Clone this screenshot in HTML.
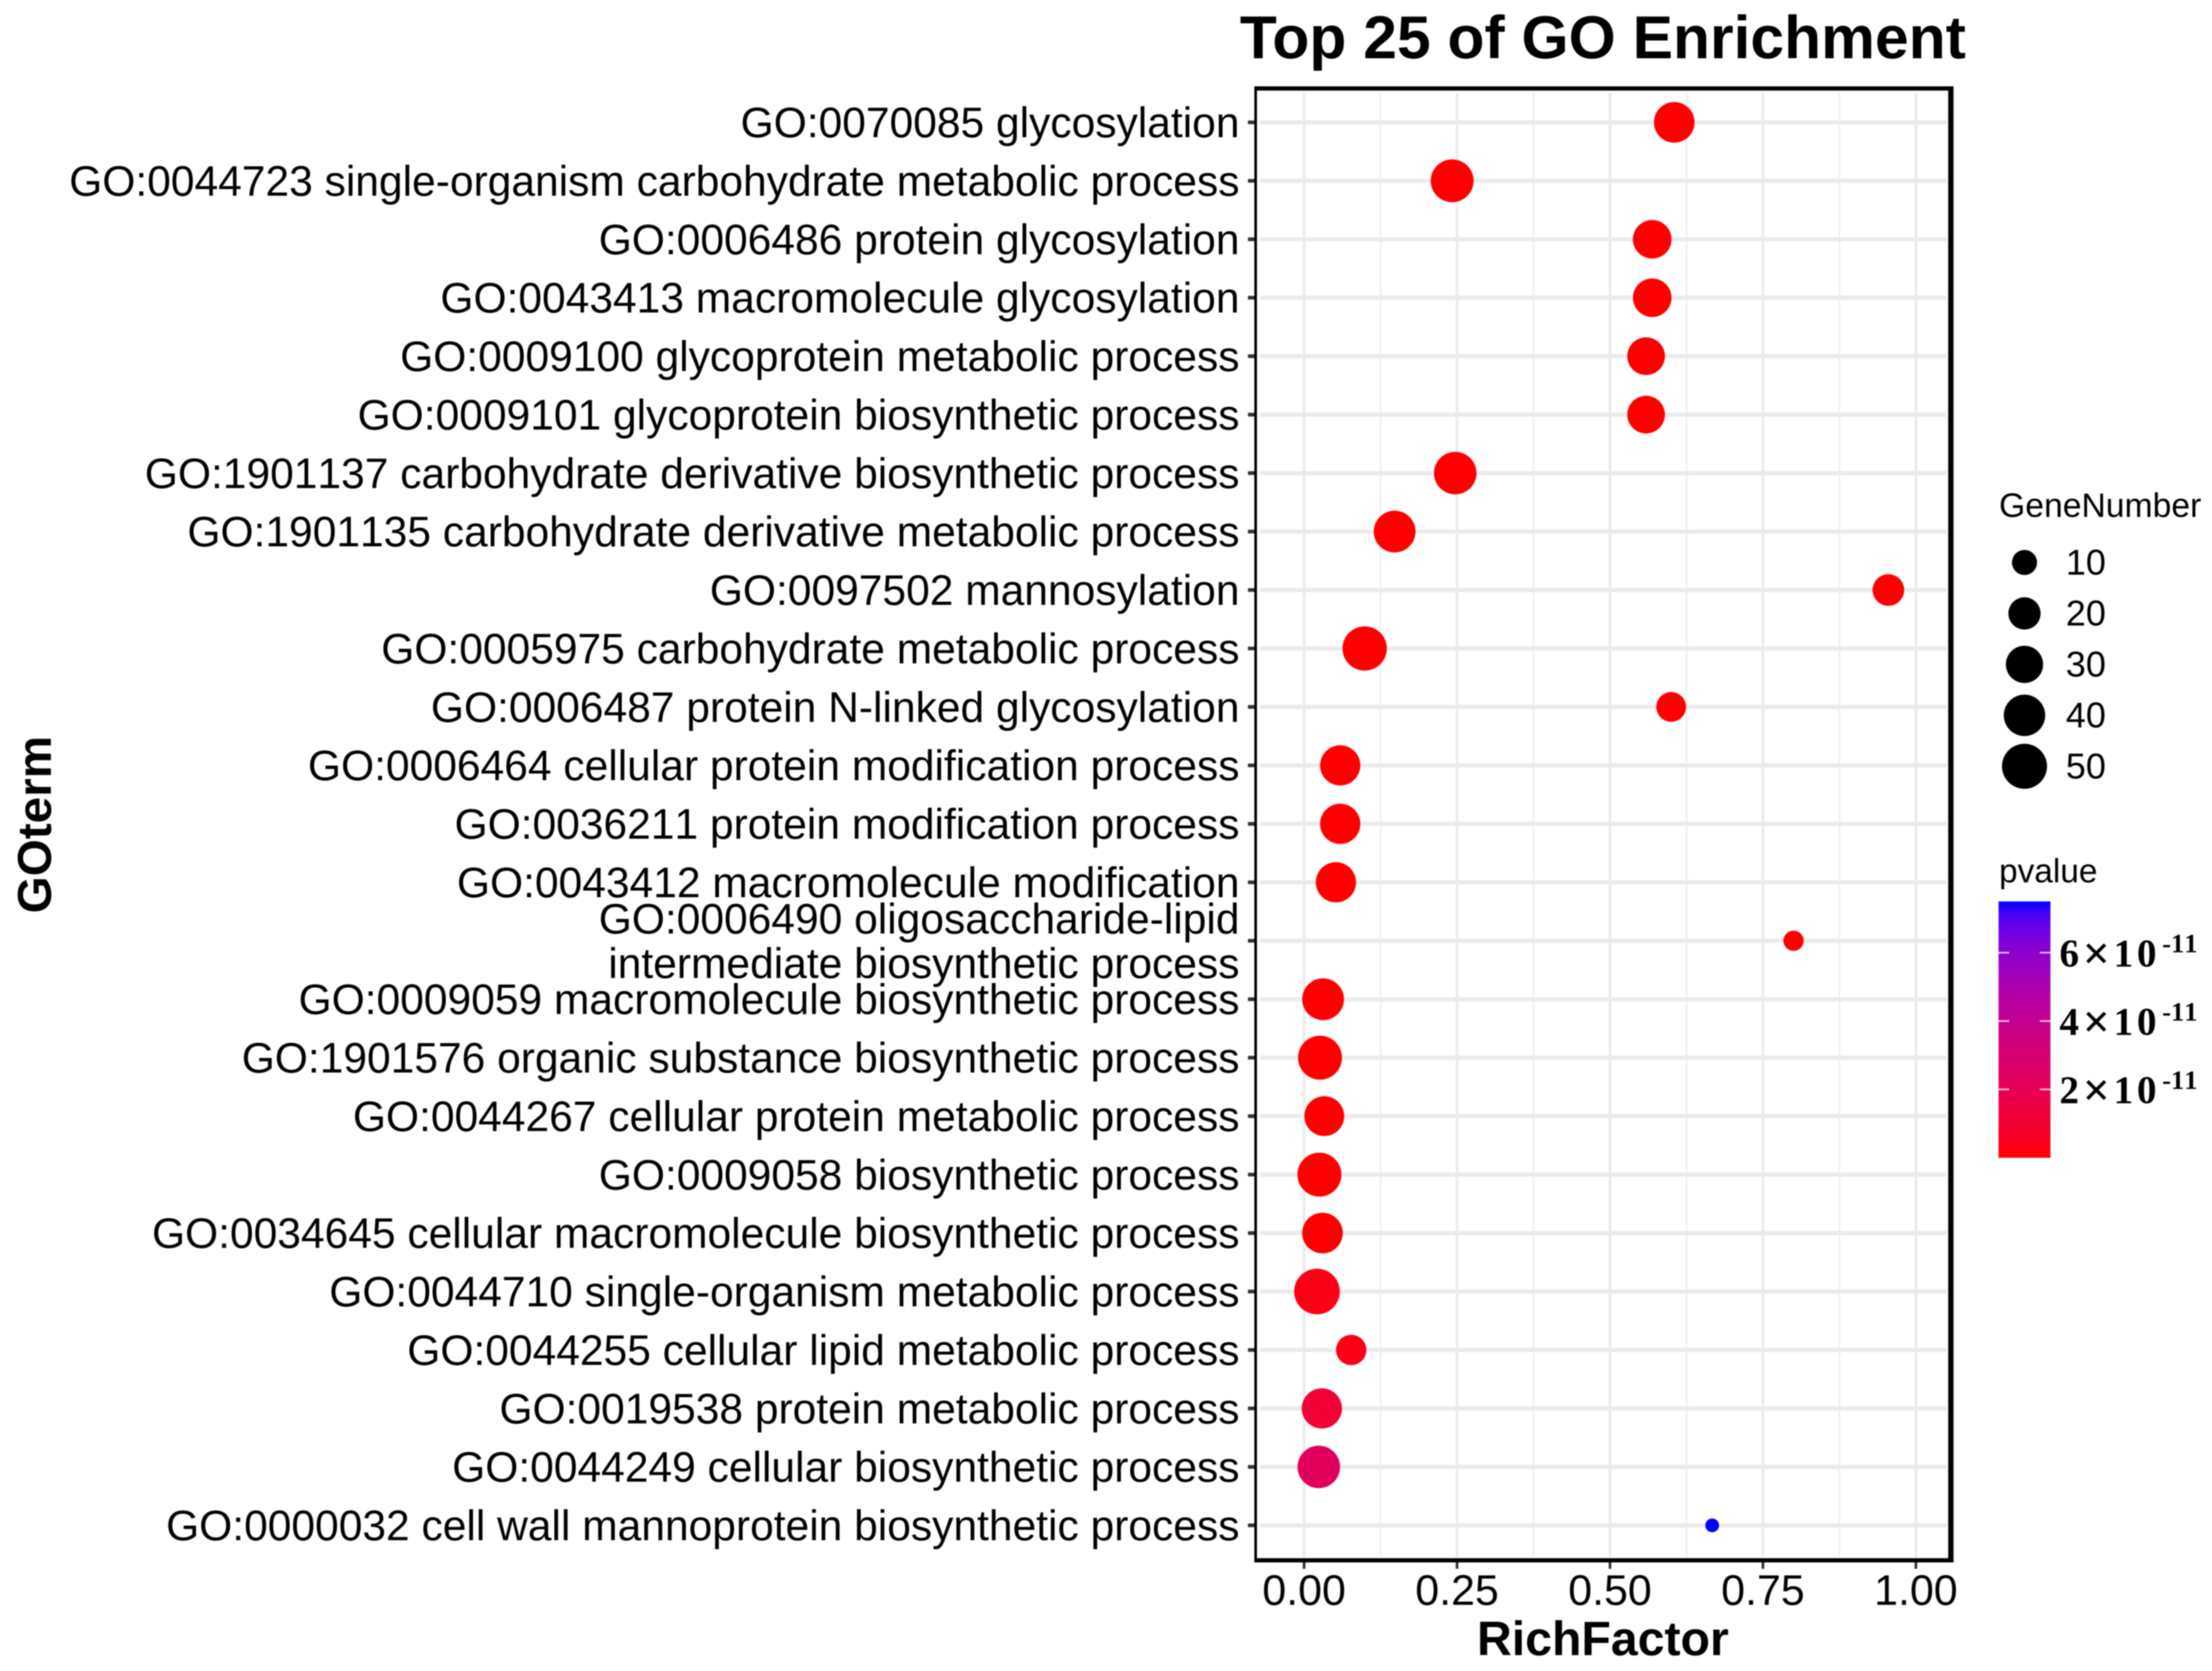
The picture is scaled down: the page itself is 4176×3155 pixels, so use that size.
<!DOCTYPE html>
<html lang="en">
<head>
<meta charset="utf-8">
<title>Top 25 of GO Enrichment</title>
<style>
html,body{margin:0;padding:0;background:#fff;width:4176px;height:3155px;overflow:hidden}
svg{display:block;filter:blur(1px)}
text{font-family:"Liberation Sans",Arial,sans-serif;fill:#000}
.serif{font-family:"Liberation Serif","Times New Roman",serif;font-weight:bold;font-kerning:none}
.ylab{font-kerning:none}
</style>
</head>
<body>
<svg id="chart" xmlns="http://www.w3.org/2000/svg" width="4176" height="3155" viewBox="0 0 4176 3155">
  <defs>
    <linearGradient id="pvalue-gradient" x1="0" y1="1" x2="0" y2="0"></linearGradient>
  </defs>
  <rect x="0" y="0" width="4176" height="3155" fill="#ffffff"/>
  <g id="grid"></g>
  <g id="points"></g>
  <g id="frame">
    <rect x="2368" y="163" width="1320" height="8" fill="#000"/>
    <rect x="2368" y="2942" width="1320" height="8" fill="#000"/>
    <rect x="2368" y="163" width="5" height="2787" fill="#000"/>
    <rect x="3678" y="163" width="10" height="2787" fill="#000"/>
  </g>
  <g id="y-axis"></g>
  <g id="x-axis"></g>
  <text x="3026" y="110" font-size="114.4" font-weight="bold" text-anchor="middle">Top 25 of GO Enrichment</text>
  <text x="3026" y="3125" font-size="91" font-weight="bold" text-anchor="middle">RichFactor</text>
  <text transform="translate(96 1557) rotate(-90)" font-size="90" font-weight="bold" text-anchor="middle">GOterm</text>
  <g id="size-legend">
    <text x="3774" y="976" font-size="63.6">GeneNumber</text>
  </g>
  <g id="color-legend">
    <text x="3774" y="1666" font-size="63">pvalue</text>
    <rect x="3773" y="1702" width="98" height="484" fill="url(#pvalue-gradient)"/>
  </g>
</svg>
<script>
// ---- chart data ----
const terms = [
  "GO:0070085 glycosylation",
  "GO:0044723 single-organism carbohydrate metabolic process",
  "GO:0006486 protein glycosylation",
  "GO:0043413 macromolecule glycosylation",
  "GO:0009100 glycoprotein metabolic process",
  "GO:0009101 glycoprotein biosynthetic process",
  "GO:1901137 carbohydrate derivative biosynthetic process",
  "GO:1901135 carbohydrate derivative metabolic process",
  "GO:0097502 mannosylation",
  "GO:0005975 carbohydrate metabolic process",
  "GO:0006487 protein N-linked glycosylation",
  "GO:0006464 cellular protein modification process",
  "GO:0036211 protein modification process",
  "GO:0043412 macromolecule modification",
  "GO:0006490 oligosaccharide-lipid\nintermediate biosynthetic process",
  "GO:0009059 macromolecule biosynthetic process",
  "GO:1901576 organic substance biosynthetic process",
  "GO:0044267 cellular protein metabolic process",
  "GO:0009058 biosynthetic process",
  "GO:0034645 cellular macromolecule biosynthetic process",
  "GO:0044710 single-organism metabolic process",
  "GO:0044255 cellular lipid metabolic process",
  "GO:0019538 protein metabolic process",
  "GO:0044249 cellular biosynthetic process",
  "GO:0000032 cell wall mannoprotein biosynthetic process"
];
const richFactor = [0.605,0.242,0.569,0.569,0.559,0.559,0.247,0.148,0.955,0.099,0.600,0.059,0.059,0.052,0.800,0.031,0.026,0.033,0.025,0.030,0.021,0.077,0.029,0.024,0.667];
const geneNumber = [38,44,33,33,31,31,43,41,19,48,16,37,37,37,6,41,47,36,47,38,52,17,37,43,4];
const pValue = [0,0,0,0,0,0,0,0,0,0,0,0,0,0,0,0,0,0,0,0,3e-12,3e-12,1.1e-11,2.3e-11,7.5e-11];
const xTickValues = [0,0.25,0.5,0.75,1];
const xTickLabels = ["0.00","0.25","0.50","0.75","1.00"];
const xMinorTickValues = [0.125,0.375,0.625,0.875];
const legendSizes = [10,20,30,40,50];
const colorbarTickValues = [2e-11,4e-11,6e-11];
const colorbarTickLabels = ["2×10","4×10","6×10"];
const colorbarExponent = "-11";
const pMax = 7.5e-11;

// ---- axis functions ----
const NS = "http://www.w3.org/2000/svg";
function xScale(v){ return 2462 + 1155 * v; }
function yScale(i){ return 231 + 110.375 * i; }
function sizeScale(n){
  const t = Math.max(0, (n - 4) / 46);
  return 26 + 59 * Math.sqrt(t);
}
function cbScale(p){ return 2186 - 484 * (p / pMax); }

function srgb2lin(c){ c/=255; return c<=0.04045 ? c/12.92 : Math.pow((c+0.055)/1.055,2.4); }
function lin2srgb(c){ const v = c<=0.0031308 ? 12.92*c : 1.055*Math.pow(c,1/2.4)-0.055; return Math.round(255*Math.min(1,Math.max(0,v))); }
function rgb2lab(r,g,b){
  r=srgb2lin(r);g=srgb2lin(g);b=srgb2lin(b);
  const x=(0.4124564*r+0.3575761*g+0.1804375*b)/0.95047,y=0.2126729*r+0.7151522*g+0.0721750*b,z=(0.0193339*r+0.1191920*g+0.9503041*b)/1.08883;
  const f=t=>t>0.008856?Math.cbrt(t):7.787*t+16/116;
  return [116*f(y)-16,500*(f(x)-f(y)),200*(f(y)-f(z))];
}
function lab2rgb(L,a,b){
  const fy=(L+16)/116,fx=a/500+fy,fz=fy-b/200;
  const g=t=>{const c=t*t*t;return c>0.008856?c:(t-16/116)/7.787;};
  const x=g(fx)*0.95047,y=g(fy),z=g(fz)*1.08883;
  return [lin2srgb(3.2404542*x-1.5371385*y-0.4985314*z),lin2srgb(-0.9692660*x+1.8760108*y+0.0415560*z),lin2srgb(0.0556434*x-0.2040259*y+1.0572252*z)];
}
const labLow = rgb2lab(255,0,0), labHigh = rgb2lab(0,0,255);
function colorScale(p){
  const t = Math.min(1, Math.max(0, p / pMax));
  const c = lab2rgb(labLow[0]+(labHigh[0]-labLow[0])*t, labLow[1]+(labHigh[1]-labLow[1])*t, labLow[2]+(labHigh[2]-labLow[2])*t);
  return "rgb("+c[0]+","+c[1]+","+c[2]+")";
}

function mk(tag, parent, attrs){
  const el = document.createElementNS(NS, tag);
  for (const k in attrs) el.setAttribute(k, attrs[k]);
  parent.appendChild(el);
  return el;
}

const grid = document.getElementById("grid");
const pointsG = document.getElementById("points");
const yAxis = document.getElementById("y-axis");
const xAxis = document.getElementById("x-axis");
const sizeLegend = document.getElementById("size-legend");
const colorLegend = document.getElementById("color-legend");
const gradient = document.getElementById("pvalue-gradient");

// grid
xMinorTickValues.forEach(function(v){
  const l = mk("line", grid, {x1:xScale(v),x2:xScale(v),y1:175,y2:2940,stroke:"#eeeeee","stroke-width":3});
  
  
});
xTickValues.forEach(function(v){
  const l = mk("line", grid, {x1:xScale(v),x2:xScale(v),y1:175,y2:2940,stroke:"#ebebeb","stroke-width":5});
  
  
});
terms.forEach(function(t,i){
  const l = mk("line", grid, {x1:2378,x2:3675,y1:yScale(i),y2:yScale(i),stroke:"#ebebeb","stroke-width":8});
  
  
});

// y axis
terms.forEach(function(t,i){
  const y = yScale(i);
  const tick = mk("line", yAxis, {x1:2356,x2:2368,y1:y,y2:y,stroke:"#333","stroke-width":7});
  
  
  const lines = t.split("\n");
  if (lines.length === 1) {
    const txt = mk("text", yAxis, {x:2340,y:y+28,"font-size":80.3,"text-anchor":"end","class":"ylab"});
    txt.textContent = lines[0];
    
    
  } else {
    lines.forEach(function(s,j){
      const txt = mk("text", yAxis, {x:2340,y:y-14+84*j,"font-size":80.3,"text-anchor":"end","class":"ylab"});
      txt.textContent = s;
      
      
    });
  }
});

// x axis
xTickValues.forEach(function(v,i){
  const tick = mk("line", xAxis, {x1:xScale(v),x2:xScale(v),y1:2950,y2:2962,stroke:"#333","stroke-width":5});
  
  
  const txt = mk("text", xAxis, {x:xScale(v),y:3030,"font-size":81,"text-anchor":"middle"});
  txt.textContent = xTickLabels[i];
  
  
});

// points
terms.forEach(function(t,i){
  const c = mk("circle", pointsG, {cx:xScale(richFactor[i]),cy:yScale(i),r:sizeScale(geneNumber[i])/2,fill:colorScale(pValue[i])});
  
  
});

// size legend
legendSizes.forEach(function(n,i){
  const y = 1062 + 96.2 * i;
  const c = mk("circle", sizeLegend, {cx:3822,cy:y,r:sizeScale(n)/2,fill:"#000"});
  
  
  const txt = mk("text", sizeLegend, {x:3900,y:y+23,"font-size":68});
  txt.textContent = String(n);
  
  
});

// colour legend
for (let k = 0; k <= 20; k++) {
  const t = k / 20;
  const s = mk("stop", gradient, {offset:t,"stop-color":colorScale(t*pMax)});
}
colorbarTickValues.forEach(function(p,i){
  const y = cbScale(p);
  const a = mk("line", colorLegend, {x1:3773,x2:3793,y1:y,y2:y,stroke:"#fff","stroke-width":3,"stroke-opacity":0.8});
  
  
  const b = mk("line", colorLegend, {x1:3851,x2:3871,y1:y,y2:y,stroke:"#fff","stroke-width":3,"stroke-opacity":0.8});
  
  
  const parts = colorbarTickLabels[i].split("×");
  const txt = mk("text", colorLegend, {x:3888,y:y+26,"font-size":74,"letter-spacing":7,"class":"serif"});
  
  
  txt.appendChild(document.createTextNode(parts[0]));
  const times = mk("tspan", txt, {"font-size":90,"dy":5});
  times.textContent = "×";
  const tail = mk("tspan", txt, {"dy":-5});
  tail.textContent = parts[1];
  const sup = mk("text", colorLegend, {x:4082,y:y-1,"font-size":50,"class":"serif"});
  sup.textContent = colorbarExponent;
  
  
});
</script>
</body>
</html>
